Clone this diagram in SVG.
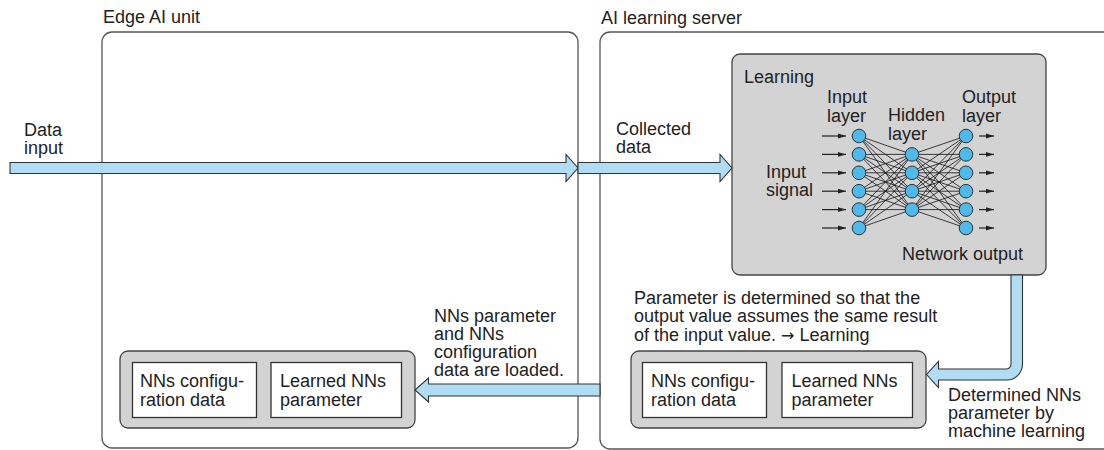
<svg xmlns="http://www.w3.org/2000/svg" width="1104" height="450" viewBox="0 0 1104 450">
<style>
text{font-family:"Liberation Sans",Arial,sans-serif;font-size:18px;fill:#222}
.arr{font-family:"DejaVu Sans",sans-serif;font-size:16px}
.frame{fill:#fff;stroke:#555;stroke-width:1.3}
.gray{fill:#d3d3d3;stroke:#444;stroke-width:1.3}
.white{fill:#fff;stroke:#333;stroke-width:1.3}
.band{fill:#b0ddf4;stroke:#333;stroke-width:1.1;stroke-linejoin:miter}
.neuron{fill:#4fbaea;stroke:#222;stroke-width:0.9}
.syn{fill:none;stroke:#111;stroke-width:0.8}
.sig{stroke:#222;stroke-width:1.2;marker-end:url(#ah)}
</style>
<defs>
<marker id="ah" markerWidth="8" markerHeight="6" refX="8" refY="3" orient="auto" markerUnits="userSpaceOnUse"><path d="M0,0.6 L8,3 L0,5.4z" fill="#222"/></marker>
</defs>
<rect width="1104" height="450" fill="#fff"/>

<g id="edge-ai-unit">
<rect class="frame" x="102" y="32" width="476" height="416" rx="10"/>
<text x="103" y="23">Edge AI unit</text>
</g>

<g id="ai-learning-server">
<rect class="frame" x="600" y="32" width="520" height="417" rx="10"/>
<text x="601" y="24">AI learning server</text>
</g>

<g id="learning">
<rect class="gray" x="732" y="54" width="314" height="221" rx="8"/>
<text x="744" y="83">Learning</text>
<text x="827" y="103">Input</text>
<text x="827" y="121.5">layer</text>
<text x="888" y="121">Hidden</text>
<text x="888" y="139.5">layer</text>
<text x="962" y="103">Output</text>
<text x="962" y="121.5">layer</text>
<text x="766" y="178">Input</text>
<text x="766" y="196">signal</text>
<text x="902" y="260">Network output</text>
<path class="syn" d="M859 136L912 154.4M859 136L912 172.8M859 136L912 191.2M859 136L912 209.6M859 154.4L912 154.4M859 154.4L912 172.8M859 154.4L912 191.2M859 154.4L912 209.6M859 172.8L912 154.4M859 172.8L912 172.8M859 172.8L912 191.2M859 172.8L912 209.6M859 191.2L912 154.4M859 191.2L912 172.8M859 191.2L912 191.2M859 191.2L912 209.6M859 209.6L912 154.4M859 209.6L912 172.8M859 209.6L912 191.2M859 209.6L912 209.6M859 228L912 154.4M859 228L912 172.8M859 228L912 191.2M859 228L912 209.6"/>
<path class="syn" d="M966 136L912 154.4M966 136L912 172.8M966 136L912 191.2M966 136L912 209.6M966 154.4L912 154.4M966 154.4L912 172.8M966 154.4L912 191.2M966 154.4L912 209.6M966 172.8L912 154.4M966 172.8L912 172.8M966 172.8L912 191.2M966 172.8L912 209.6M966 191.2L912 154.4M966 191.2L912 172.8M966 191.2L912 191.2M966 191.2L912 209.6M966 209.6L912 154.4M966 209.6L912 172.8M966 209.6L912 191.2M966 209.6L912 209.6M966 228L912 154.4M966 228L912 172.8M966 228L912 191.2M966 228L912 209.6"/>
<g>
<line class="sig" x1="822" y1="136" x2="846" y2="136"/>
<line class="sig" x1="822" y1="154.4" x2="846" y2="154.4"/>
<line class="sig" x1="822" y1="172.8" x2="846" y2="172.8"/>
<line class="sig" x1="822" y1="191.2" x2="846" y2="191.2"/>
<line class="sig" x1="822" y1="209.6" x2="846" y2="209.6"/>
<line class="sig" x1="822" y1="228" x2="846" y2="228"/>
<line class="sig" x1="979" y1="136" x2="994" y2="136"/>
<line class="sig" x1="979" y1="154.4" x2="994" y2="154.4"/>
<line class="sig" x1="979" y1="172.8" x2="994" y2="172.8"/>
<line class="sig" x1="979" y1="191.2" x2="994" y2="191.2"/>
<line class="sig" x1="979" y1="209.6" x2="994" y2="209.6"/>
<line class="sig" x1="979" y1="228" x2="994" y2="228"/>
</g>
<g>
<circle class="neuron" cx="859" cy="136" r="6.8"/>
<circle class="neuron" cx="859" cy="154.4" r="6.8"/>
<circle class="neuron" cx="859" cy="172.8" r="6.8"/>
<circle class="neuron" cx="859" cy="191.2" r="6.8"/>
<circle class="neuron" cx="859" cy="209.6" r="6.8"/>
<circle class="neuron" cx="859" cy="228" r="6.8"/>
<circle class="neuron" cx="912" cy="154.4" r="6.8"/>
<circle class="neuron" cx="912" cy="172.8" r="6.8"/>
<circle class="neuron" cx="912" cy="191.2" r="6.8"/>
<circle class="neuron" cx="912" cy="209.6" r="6.8"/>
<circle class="neuron" cx="966" cy="136" r="6.8"/>
<circle class="neuron" cx="966" cy="154.4" r="6.8"/>
<circle class="neuron" cx="966" cy="172.8" r="6.8"/>
<circle class="neuron" cx="966" cy="191.2" r="6.8"/>
<circle class="neuron" cx="966" cy="209.6" r="6.8"/>
<circle class="neuron" cx="966" cy="228" r="6.8"/>
</g>
</g>

<g id="edge-nns">
<rect class="gray" x="120" y="351" width="295" height="77" rx="8"/>
<rect class="white" x="132.5" y="362.5" width="124" height="55"/>
<rect class="white" x="271" y="362.5" width="130.5" height="55"/>
<text x="140" y="387.3">NNs configu-</text>
<text x="140" y="405.8">ration data</text>
<text x="280" y="387.3">Learned NNs</text>
<text x="280" y="405.8">parameter</text>
</g>

<g id="server-nns">
<rect class="gray" x="631" y="351" width="295" height="77" rx="8"/>
<rect class="white" x="642.5" y="362.5" width="124" height="55"/>
<rect class="white" x="782" y="362.5" width="130.5" height="55"/>
<text x="651" y="387.3">NNs configu-</text>
<text x="651" y="405.8">ration data</text>
<text x="791.5" y="387.3">Learned NNs</text>
<text x="791.5" y="405.8">parameter</text>
</g>

<g id="labels">
<text x="24" y="135.5">Data</text>
<text x="24" y="153.5">input</text>
<text x="616" y="135">Collected</text>
<text x="616" y="153">data</text>
<text x="634" y="303.5">Parameter is determined so that the</text>
<text x="634" y="322">output value assumes the same result</text>
<text x="634" y="340.5">of the input value. <tspan class="arr">→</tspan> Learning</text>
<text x="434" y="321.7">NNs parameter</text>
<text x="434" y="339.8">and NNs</text>
<text x="434" y="357.9">configuration</text>
<text x="434" y="376">data are loaded.</text>
<text x="948" y="401">Determined NNs</text>
<text x="948" y="419">parameter by</text>
<text x="948" y="437">machine learning</text>
</g>

<g id="connectors">
<path class="band" d="M10 162.5H566V154.5L578 168L566 181.5V173.5H10Z"/>
<path class="band" d="M578 162.5H720V154.5L732 168L720 181.5V173.5H578Z"/>
<path class="band" d="M600 384H428.5V378L415 390L428.5 402V396H600Z"/>
<path class="band" d="M1011 275H1022.5V364A16 16 0 0 1 1006.5 380H938.5V387.5L926.5 374.5L938.5 361.5V369H1006A5 5 0 0 0 1011 364Z"/>
</g>
</svg>
